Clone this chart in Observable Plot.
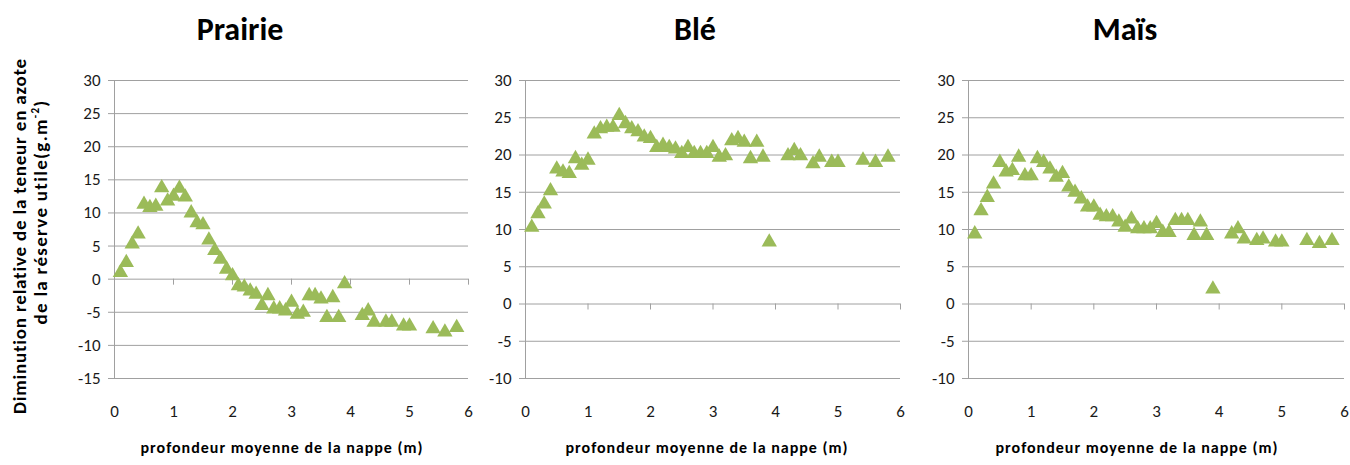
<!DOCTYPE html>
<html><head><meta charset="utf-8">
<script src="https://cdn.jsdelivr.net/npm/d3@7"></script>
<script src="https://cdn.jsdelivr.net/npm/@observablehq/plot@0.6"></script>
<style>
body{margin:0;background:#fff;font-family:Carlito,Lato,"Open Sans",sans-serif;color:#000}
#root{position:relative;width:1350px;height:465px;overflow:hidden}
.panel{position:absolute;top:60px}
.panel svg{max-width:none !important}
.title{position:absolute;font-weight:bold;font-size:32px;transform:translateX(-50%);top:10px;white-space:nowrap}
.xlabel{position:absolute;font-weight:bold;font-size:16px;letter-spacing:1px;transform:translate(-50%,-50%);top:447px;white-space:nowrap}
.ylabel{position:absolute;font-weight:bold;font-size:19px;white-space:nowrap;transform:translate(-50%,-50%) rotate(-90deg)}
</style>
</head><body>
<div id="root"></div>
<script>
// ---- data ----
const depth = [0.1,0.2,0.3,0.4,0.5,0.6,0.7,0.8,0.9,1.0,1.1,1.2,1.3,1.4,1.5,1.6,1.7,1.8,1.9,2.0,2.1,2.2,2.3,2.4,2.5,2.6,2.7,2.8,2.9,3.0,3.1,3.2,3.3,3.4,3.5,3.6,3.7,3.8,3.9,4.2,4.3,4.4,4.6,4.7,4.9,5.0,5.4,5.6,5.8];
const prairie = [1.0,2.5,5.3,6.8,11.3,10.8,11.0,13.8,11.8,12.5,13.7,12.4,10.0,8.5,8.2,5.9,4.3,3.0,1.5,0.5,-1.0,-1.2,-1.8,-2.3,-4.0,-2.5,-4.5,-4.5,-4.8,-3.5,-5.3,-5.0,-2.5,-2.5,-3.0,-5.8,-2.8,-5.8,-0.7,-5.5,-4.8,-6.5,-6.5,-6.5,-7.1,-7.1,-7.5,-8.0,-7.3];
const ble = [10.3,12.1,13.4,15.2,18.1,17.7,17.5,19.5,18.6,19.3,22.8,23.5,23.7,23.7,25.3,24.2,23.5,23.1,22.4,22.2,21.0,21.3,21.0,20.8,20.2,21.0,20.2,20.2,20.2,21.0,19.7,19.9,21.9,22.2,21.7,19.5,21.7,19.7,8.3,19.9,20.6,19.9,18.8,19.7,19.0,19.0,19.3,19.0,19.7];
const mais = [9.4,12.5,14.3,16.1,19.0,17.7,17.9,19.7,17.2,17.2,19.5,19.0,18.1,17.0,17.5,15.7,15.0,14.1,13.0,13.0,11.9,11.7,11.7,11.0,10.3,11.4,10.1,10.1,10.1,10.8,9.6,9.6,11.2,11.2,11.2,9.2,11.0,9.2,2.0,9.4,10.1,8.7,8.5,8.7,8.3,8.3,8.5,8.1,8.5];
const titles = ["Prairie","Blé","Maïs"];
const xTicks = [0,1,2,3,4,5,6];
const yTicksPrairie = [-15,-10,-5,0,5,10,15,20,25,30];
const yTicksCrop = [-10,-5,0,5,10,15,20,25,30];
const xLabel = "profondeur moyenne de la nappe (m)";
const yLabel1 = "Diminution relative de la teneur en azote";
const yLabel2 = "de la réserve utile(g.m<sup style='font-size:11px'>-2</sup>)";

// ---- layout ----
const root = document.getElementById("root");
const GRID = "#a0a0a0";
const FONT = "Carlito, Lato, 'Open Sans', sans-serif";
const panels = [
  {vals: prairie, yT: yTicksPrairie, left: 40, width: 450, ml: 74, mr: 22, title: 240, xl: 282},
  {vals: ble, yT: yTicksCrop, left: 480, width: 440, ml: 45, mr: 20, title: 695, xl: 707},
  {vals: mais, yT: yTicksCrop, left: 920, width: 430, ml: 48, mr: 6, title: 1125, xl: 1137}
];
const H = 360, MT = 20, MB = 42;

panels.forEach((p, k) => {
  const data = depth.map((d, i) => ({x: d, y: p.vals[i]}));
  const yDom = [p.yT[0], p.yT[p.yT.length - 1]];
  const xDom = [xTicks[0], xTicks[xTicks.length - 1]];
  const tickLenY = 6 * (yDom[1] - yDom[0]) / (H - MT - MB);
  const tickLenX = 6 * (xDom[1] - xDom[0]) / (p.width - p.ml - p.mr);
  const chart = Plot.plot({
    width: p.width, height: H,
    marginLeft: p.ml, marginRight: p.mr, marginTop: MT, marginBottom: MB,
    x: {type: "linear", domain: xDom, axis: null},
    y: {type: "linear", domain: yDom, axis: null},
    style: {fontFamily: FONT, background: "transparent", overflow: "visible"},
    marks: [
      Plot.ruleY(p.yT, {y: d => d, x1: xDom[0] - tickLenX, x2: xDom[1], stroke: GRID, strokeWidth: 1}),
      Plot.ruleX([xDom[0]], {x: d => d, y1: yDom[0], y2: yDom[1], stroke: GRID, strokeWidth: 1}),
      Plot.ruleX(xTicks, {x: d => d, y1: 0, y2: -tickLenY, stroke: GRID}),
      Plot.text(p.yT, {x: xDom[0], y: d => d, text: d => String(d), textAnchor: "end", dx: -14, fontSize: 17, fill: "#1a1a1a", fontFamily: FONT}),
      Plot.text(xTicks, {x: d => d, y: yDom[0], text: d => String(d), dy: 33, fontSize: 17, fill: "#1a1a1a", fontFamily: FONT}),
      Plot.dot(data, {x: "x", y: "y", symbol: "triangle", r: 5.7, fill: "#9bbb59", stroke: "none"})
    ]
  });
  const div = document.createElement("div");
  div.className = "panel";
  div.style.left = p.left + "px";
  div.style.width = p.width + "px";
  div.appendChild(chart);
  root.appendChild(div);

  const t = document.createElement("div");
  t.className = "title"; t.style.left = p.title + "px"; t.textContent = titles[k];
  root.appendChild(t);
  const xl = document.createElement("div");
  xl.className = "xlabel"; xl.style.left = p.xl + "px"; xl.textContent = xLabel;
  root.appendChild(xl);
});

const y1 = document.createElement("div");
y1.className = "ylabel"; y1.style.left = "19px"; y1.style.top = "236px"; y1.style.letterSpacing = "0.8px"; y1.textContent = yLabel1;
root.appendChild(y1);
const y2 = document.createElement("div");
y2.className = "ylabel"; y2.style.left = "40px"; y2.style.top = "212px"; y2.style.letterSpacing = "1.3px"; y2.innerHTML = yLabel2;
root.appendChild(y2);
</script>
</body></html>
